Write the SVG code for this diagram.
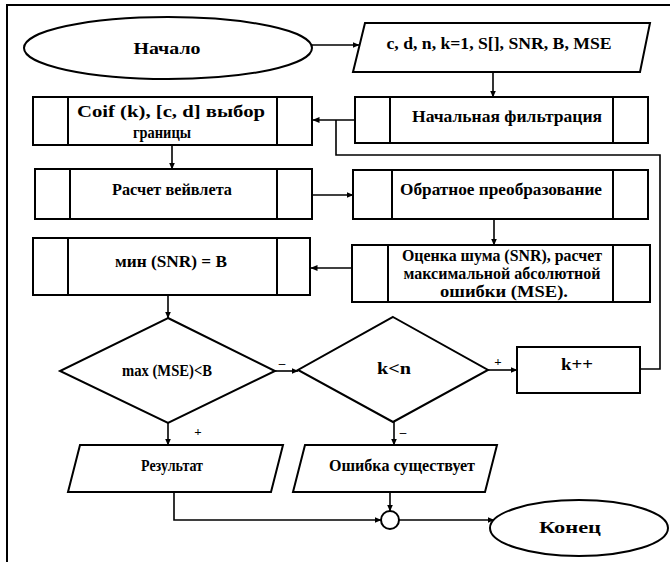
<svg xmlns="http://www.w3.org/2000/svg" width="670" height="562" viewBox="0 0 670 562">
  <defs>
    <marker id="arr" markerWidth="7" markerHeight="6" refX="6.5" refY="3" orient="auto" markerUnits="userSpaceOnUse">
      <path d="M0,0 L7,3 L0,6 Z" fill="#000"/>
    </marker>
    <style>
      .shape { fill: #fff; stroke: #000; stroke-width: 2; }
      .div { stroke: #000; stroke-width: 2; fill: none; }
      .conn { stroke: #000; stroke-width: 1.6; fill: none; }
      .t { font-family: "Liberation Serif", "Times New Roman", serif; font-weight: bold; font-size: 17px; fill: #000; text-anchor: middle; }
      .lbl { font-family: "Liberation Serif", "Times New Roman", serif; font-weight: bold; font-size: 13px; fill: #000; text-anchor: middle; }
    </style>
  </defs>
  <rect width="670" height="562" fill="#fff"/>

  <!-- page frame -->
  <g id="frame">
    <path d="M7,562 L7,5 L670,5" class="div"/>
  </g>

  <g id="start">
    <ellipse cx="168" cy="48" rx="144" ry="31" class="shape"/>
    <text x="167" y="54" class="t" font-size="18" textLength="67" lengthAdjust="spacingAndGlyphs">Начало</text>
  </g>

  <g id="params">
    <polygon points="365,23 650,23 640,72 353,72" class="shape"/>
    <text x="499" y="49" class="t" textLength="225" lengthAdjust="spacingAndGlyphs">c, d, n, k=1, S[], SNR, B, MSE</text>
  </g>

  <g id="init-filter">
    <rect x="355" y="97" width="293" height="46" class="shape"/>
    <path d="M390,97 V143 M613,97 V143" class="div"/>
    <text x="507" y="122" class="t" textLength="190" lengthAdjust="spacingAndGlyphs">Начальная фильтрация</text>
  </g>

  <g id="coif">
    <rect x="33" y="97" width="279" height="48" class="shape"/>
    <path d="M68,97 V145 M277,97 V145" class="div"/>
    <text x="171" y="117" class="t" font-size="15" textLength="188" lengthAdjust="spacingAndGlyphs">Coif (k), [c, d] выбор</text>
    <text x="162" y="138" class="t" font-size="16" textLength="58" lengthAdjust="spacingAndGlyphs">границы</text>
  </g>

  <g id="wavelet">
    <rect x="35" y="169" width="277" height="50" class="shape"/>
    <path d="M70,169 V219 M277,169 V219" class="div"/>
    <text x="172" y="195" class="t" textLength="120" lengthAdjust="spacingAndGlyphs">Расчет вейвлета</text>
  </g>

  <g id="inverse">
    <rect x="353" y="170" width="295" height="49" class="shape"/>
    <path d="M392,170 V219 M613,170 V219" class="div"/>
    <text x="501" y="195" class="t" textLength="202" lengthAdjust="spacingAndGlyphs">Обратное преобразование</text>
  </g>

  <g id="noise">
    <rect x="352" y="245" width="298" height="57" class="shape"/>
    <path d="M388,245 V302 M613,245 V302" class="div"/>
    <text x="502" y="261" class="t" font-size="14" textLength="200" lengthAdjust="spacingAndGlyphs">Оценка шума (SNR), расчет</text>
    <text x="502" y="279" class="t" font-size="14" textLength="197" lengthAdjust="spacingAndGlyphs">максимальной абсолютной</text>
    <text x="504" y="297" class="t" font-size="14" textLength="128" lengthAdjust="spacingAndGlyphs">ошибки (MSE).</text>
  </g>

  <g id="min-snr">
    <rect x="33" y="238" width="277" height="57" class="shape"/>
    <path d="M68,238 V295 M277,238 V295" class="div"/>
    <text x="171" y="267" class="t" textLength="112" lengthAdjust="spacingAndGlyphs">мин (SNR) = B</text>
  </g>

  <g id="check-mse">
    <polygon points="168,318 275,371 168,423 60,371" class="shape"/>
    <text x="167" y="376" class="t" font-weight="normal" font-size="14" textLength="90" lengthAdjust="spacingAndGlyphs">max (MSE)&lt;B</text>
  </g>

  <g id="check-k">
    <polygon points="393,317 488,370 393,422 298,370" class="shape"/>
    <text x="394" y="374" class="t" font-size="18" textLength="34" lengthAdjust="spacingAndGlyphs">k&lt;n</text>
  </g>

  <g id="inc-k">
    <rect x="517" y="347" width="123" height="46" class="shape"/>
    <text x="577" y="370" class="t" font-size="17" textLength="32" lengthAdjust="spacingAndGlyphs">k++</text>
  </g>

  <g id="result">
    <polygon points="80,445 283,445 271,492 68,492" class="shape"/>
    <text x="172" y="471" class="t" font-size="14" textLength="62" lengthAdjust="spacingAndGlyphs">Результат</text>
  </g>

  <g id="error">
    <polygon points="305,445 497,445 485,492 293,492" class="shape"/>
    <text x="402" y="471" class="t" font-size="14" textLength="146" lengthAdjust="spacingAndGlyphs">Ошибка существует</text>
  </g>

  <g id="merge">
    <circle cx="390" cy="520" r="9" class="shape"/>
  </g>

  <g id="end">
    <ellipse cx="579" cy="528" rx="89" ry="28" class="shape"/>
    <text x="570" y="533" class="t" font-size="16" textLength="62" lengthAdjust="spacingAndGlyphs">Конец</text>
  </g>

  <g id="connectors">
    <path d="M312,45 H359" class="conn" marker-end="url(#arr)"/>
    <path d="M493,72 V97" class="conn" marker-end="url(#arr)"/>
    <path d="M355,120 H313" class="conn" marker-end="url(#arr)"/>
    <path d="M172,145 V169" class="conn" marker-end="url(#arr)"/>
    <path d="M312,195 H353" class="conn" marker-end="url(#arr)"/>
    <path d="M494,219 V245" class="conn" marker-end="url(#arr)"/>
    <path d="M352,268 H311" class="conn" marker-end="url(#arr)"/>
    <path d="M168,295 V318" class="conn" marker-end="url(#arr)"/>
    <path d="M275,371 H298" class="conn" marker-end="url(#arr)"/>
    <path d="M488,370 H517" class="conn" marker-end="url(#arr)"/>
    <path d="M640,369 H660 V155 H336 V120" class="conn"/>
    <path d="M168,423 V445" class="conn" marker-end="url(#arr)"/>
    <path d="M394,422 V445" class="conn" marker-end="url(#arr)"/>
    <path d="M174,492 V520 H381" class="conn" marker-end="url(#arr)"/>
    <path d="M390,492 V511" class="conn" marker-end="url(#arr)"/>
    <path d="M399,520 H494" class="conn" marker-end="url(#arr)"/>
  </g>

  <g id="branch-labels">
    <text x="282" y="367" class="lbl">–</text>
    <text x="498" y="366" class="lbl">+</text>
    <text x="198" y="436" class="lbl">+</text>
    <text x="403" y="436" class="lbl">–</text>
  </g>
</svg>
